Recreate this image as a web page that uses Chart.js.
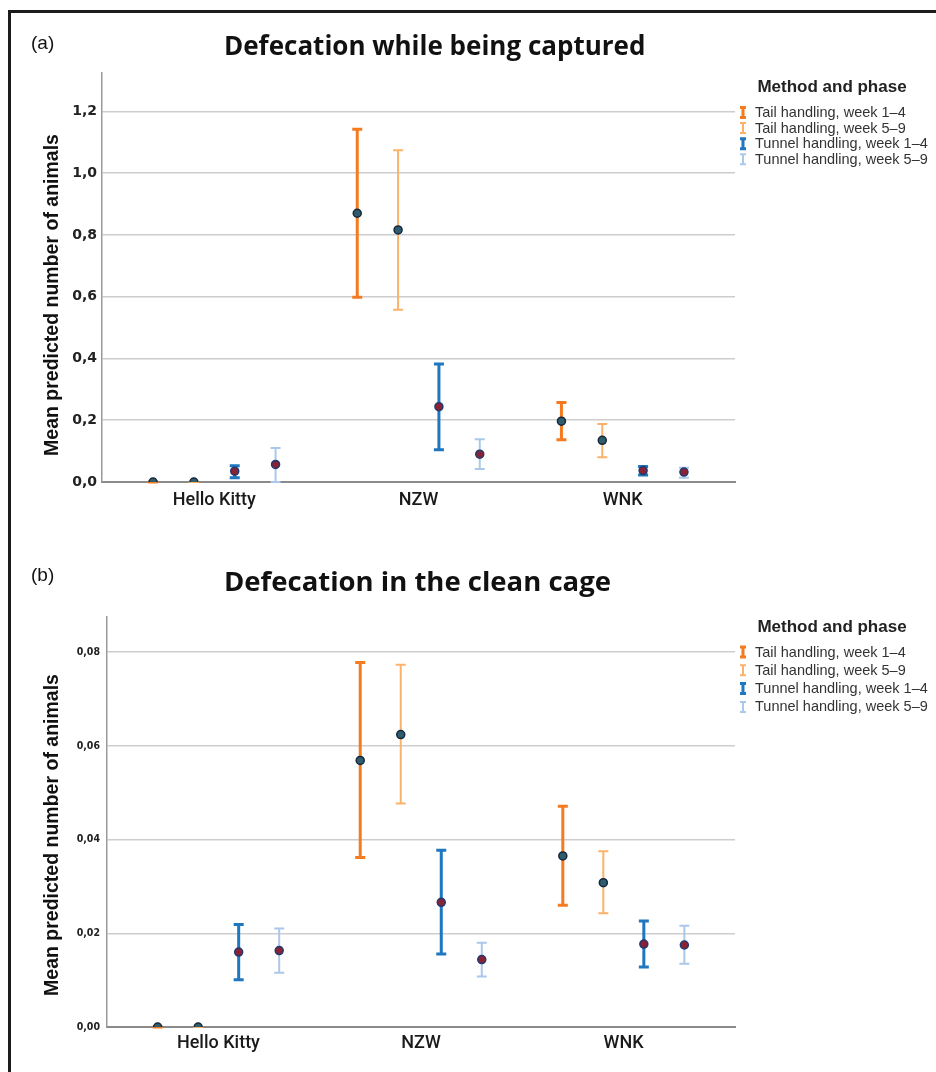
<!DOCTYPE html>
<html>
<head>
<meta charset="utf-8">
<script src="https://cdn.jsdelivr.net/npm/chart.js@4.4.1/dist/chart.umd.min.js"></script>
<style>
html, body { margin: 0; padding: 0; background: #fff; }
#page { position: relative; width: 936px; height: 1072px; overflow: hidden; }
#frame { position: absolute; left: 8px; top: 10px; width: 1000px; height: 1200px; border-left: 3px solid #1c1c1c; border-top: 3px solid #1c1c1c; }
#chartA { position: absolute; left: 0; top: 0; }
#chartB { position: absolute; left: 0; top: 540px; }
</style>
</head>
<body>
<div id="page">
  <div id="frame"></div>
  <canvas id="chartA" width="936" height="540"></canvas>
  <canvas id="chartB" width="936" height="532"></canvas>
</div>
<script>
// 品系與系列
const categories = ['Hello Kitty', 'NZW', 'WNK'];
const seriesLabels = [
    'Tail handling, week 1–4',
    'Tail handling, week 5–9',
    'Tunnel handling, week 1–4',
    'Tunnel handling, week 5–9'
];

// (a) 捕捉時排便：每列一個系列，每欄一個品系
const capturedMean = [
    [0, 0.870, 0.197],
    [0, 0.816, 0.135],
    [0.035, 0.244, 0.037],
    [0.057, 0.090, 0.032]
];
const capturedLow = [
    [0, 0.598, 0.137],
    [0, 0.558, 0.080],
    [0.014, 0.104, 0.023],
    [0, 0.042, 0.014]
];
const capturedHigh = [
    [0, 1.142, 0.257],
    [0, 1.074, 0.188],
    [0.053, 0.382, 0.050],
    [0.110, 0.138, 0.046]
];
const capturedTicks = [0, 0.2, 0.4, 0.6, 0.8, 1.0, 1.2];

// (b) 乾淨籠中排便
const cleanMean = [
    [0, 0.0569, 0.0365],
    [0, 0.0624, 0.0308],
    [0.0160, 0.0266, 0.0177],
    [0.0163, 0.0144, 0.0175]
];
const cleanLow = [
    [0, 0.0362, 0.0260],
    [0, 0.0477, 0.0243],
    [0.0101, 0.0156, 0.0128],
    [0.0116, 0.0108, 0.0135]
];
const cleanHigh = [
    [0, 0.0778, 0.0471],
    [0, 0.0773, 0.0375],
    [0.0219, 0.0377, 0.0226],
    [0.0210, 0.0180, 0.0216]
];
const cleanTicks = [0, 0.02, 0.04, 0.06, 0.08];

// 樣式
const seriesOffset = [-0.3, -0.1, 0.1, 0.3];
const barColors = ['#f47b20', '#fbb36b', '#1f77bf', '#aac8ea'];
const barWidths = [3, 2, 3, 2];
const dotFill = ['#2f5d6e', '#2f5d6e', '#8a2236', '#8a2236'];
const dotBorder = ['#16283d', '#16283d', '#213a70', '#213a70'];

// 誤差線
const errorBarPlugin = {
    id: 'errorBars',
    beforeDatasetsDraw(chart) {
        const ctx = chart.ctx;
        const yScale = chart.scales.y;
        ctx.save();
        chart.data.datasets.forEach((ds, i) => {
            const meta = chart.getDatasetMeta(i);
            ctx.strokeStyle = ds.barColor;
            ctx.lineWidth = ds.barWidth;
            ctx.lineCap = 'butt';
            meta.data.forEach((pt, j) => {
                const r = ds.data[j];
                const x = pt.x;
                const yt = yScale.getPixelForValue(r.hi);
                const yb = yScale.getPixelForValue(r.lo);
                ctx.beginPath();
                ctx.moveTo(x, yt); ctx.lineTo(x, yb);
                ctx.moveTo(x - 5, yt); ctx.lineTo(x + 5, yt);
                ctx.moveTo(x - 5, yb); ctx.lineTo(x + 5, yb);
                ctx.stroke();
            });
        });
        ctx.restore();
    }
};

// 標題、面板標記、Y 軸標題、圖例
const decorPlugin = {
    id: 'decor',
    afterDraw(chart, args, opts) {
        const ctx = chart.ctx;
        ctx.save();
        ctx.fillStyle = '#111';
        ctx.textBaseline = 'alphabetic';

        ctx.font = '19px "Liberation Sans", Arial, sans-serif';
        ctx.textAlign = 'left';
        ctx.fillText(opts.panel, 31, opts.panelY);

        ctx.font = 'bold ' + opts.titleSize + 'px "Open Sans", sans-serif';
        ctx.fillText(opts.title, 224, opts.titleY);

        ctx.save();
        ctx.translate(53, opts.yTitleY);
        ctx.rotate(-Math.PI / 2);
        ctx.textAlign = 'center';
        ctx.textBaseline = 'middle';
        ctx.font = 'bold 19.5px "Liberation Sans", Arial, sans-serif';
        ctx.fillText('Mean predicted number of animals', 0, 0);
        ctx.restore();

        // 圖例
        ctx.textAlign = 'center';
        ctx.textBaseline = 'middle';
        ctx.font = 'bold 17px "Liberation Sans", Arial, sans-serif';
        ctx.fillStyle = '#222';
        ctx.fillText('Method and phase', 832, opts.legendY);
        ctx.textAlign = 'left';
        ctx.font = '14.5px "Liberation Sans", Arial, sans-serif';
        chart.data.datasets.forEach((ds, i) => {
            const cy = opts.legendY + opts.legendFirst + i * opts.legendStep;
            ctx.strokeStyle = ds.barColor;
            ctx.lineWidth = ds.barWidth;
            ctx.beginPath();
            ctx.moveTo(743, cy - 5); ctx.lineTo(743, cy + 5);
            ctx.moveTo(740, cy - 5); ctx.lineTo(746, cy - 5);
            ctx.moveTo(740, cy + 5); ctx.lineTo(746, cy + 5);
            ctx.stroke();
            ctx.fillStyle = '#333';
            ctx.fillText(ds.label, 755, cy + 0.5);
        });
        ctx.restore();
    }
};

function buildDatasets(means, lows, highs) {
    return seriesLabels.map((label, i) => ({
        label: label,
        data: categories.map((c, j) => ({
            x: j + 1 + seriesOffset[i],
            y: means[i][j],
            lo: lows[i][j],
            hi: highs[i][j]
        })),
        barColor: barColors[i],
        barWidth: barWidths[i],
        pointRadius: 4,
        pointBorderWidth: 1.5,
        pointBackgroundColor: dotFill[i],
        pointBorderColor: dotBorder[i],
        showLine: false
    }));
}

function createPanel(id, means, lows, highs, cfg) {
    const ctx = document.getElementById(id).getContext('2d');
    return new Chart(ctx, {
        type: 'scatter',
        data: { datasets: buildDatasets(means, lows, highs) },
        plugins: [errorBarPlugin, decorPlugin],
        options: {
            responsive: false,
            animation: false,
            events: [],
            layout: { padding: { top: cfg.top, right: 201, bottom: cfg.bottom, left: 0 } },
            scales: {
                x: {
                    type: 'linear',
                    min: 0.45,
                    max: 3.55,
                    afterBuildTicks: scale => { scale.ticks = categories.map((c, i) => ({ value: i + 1 })); },
                    afterFit: scale => { scale.height = 40; },
                    grid: { display: false, drawTicks: false },
                    border: { display: true, color: '#8a8a8a', width: 2 },
                    ticks: {
                        callback: v => categories[v - 1],
                        font: { family: 'Roboto, "Liberation Sans", sans-serif', size: 18, weight: '500' },
                        color: '#1a1a1a',
                        padding: cfg.xPad
                    }
                },
                y: {
                    min: 0,
                    max: cfg.yMax,
                    afterBuildTicks: scale => { scale.ticks = cfg.ticks.map(v => ({ value: v })); },
                    afterFit: scale => { scale.width = cfg.left; },
                    grid: { color: '#cdcdcd', lineWidth: 1.5, drawTicks: false },
                    border: { display: true, color: '#9a9a9a', width: 1.5 },
                    ticks: {
                        callback: v => v.toFixed(cfg.digits).replace('.', ','),
                        font: { family: cfg.tickFamily, size: cfg.tickSize, weight: 'bold' },
                        color: '#222',
                        padding: cfg.yPad
                    }
                }
            },
            plugins: {
                legend: { display: false },
                tooltip: { enabled: false },
                decor: cfg.decor
            }
        }
    });
}

createPanel('chartA', capturedMean, capturedLow, capturedHigh, {
    top: 73, bottom: 18, left: 102, yMax: 1.324, ticks: capturedTicks, digits: 1,
    tickFamily: '"DejaVu Sans", sans-serif', tickSize: 14, yPad: 5, xPad: 8,
    decor: {
        panel: '(a)', panelY: 49,
        title: 'Defecation while being captured', titleSize: 26, titleY: 55,
        yTitleY: 295,
        legendY: 87, legendFirst: 25.5, legendStep: 15.6
    }
});

createPanel('chartB', cleanMean, cleanLow, cleanHigh, {
    top: 77, bottom: 5, left: 107, yMax: 0.0875, ticks: cleanTicks, digits: 2,
    tickFamily: '"DejaVu Sans Condensed", "DejaVu Sans", sans-serif', tickSize: 10.5, yPad: 7, xPad: 6,
    decor: {
        panel: '(b)', panelY: 41,
        title: 'Defecation in the clean cage', titleSize: 27.5, titleY: 51,
        yTitleY: 295,
        legendY: 87, legendFirst: 25, legendStep: 18.3
    }
});
</script>
</body>
</html>
